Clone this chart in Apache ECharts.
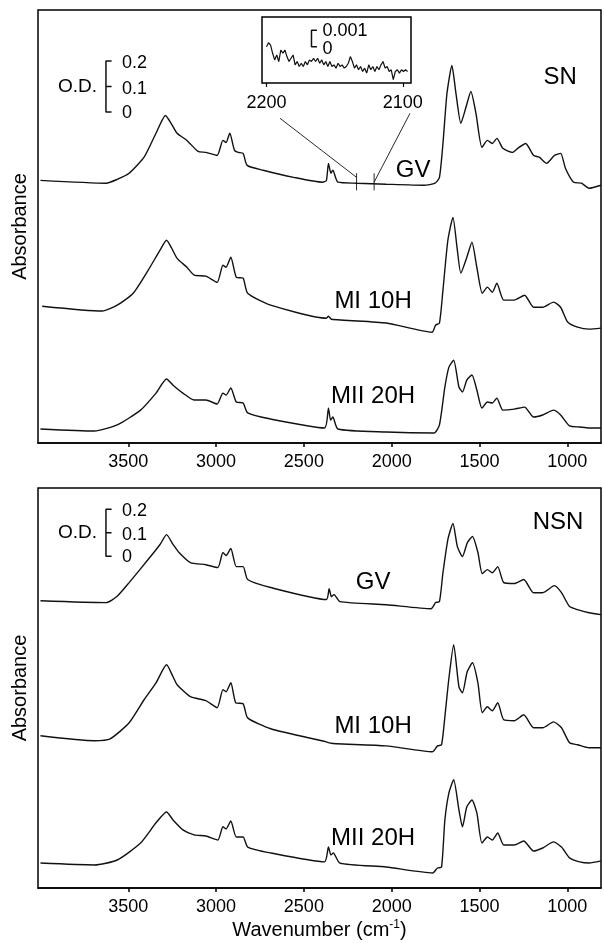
<!DOCTYPE html>
<html><head><meta charset="utf-8">
<script src="https://cdn.jsdelivr.net/npm/echarts@6/dist/echarts.min.js"></script>
<style>html,body{margin:0;padding:0;background:#fff}#c{width:604px;height:943px}</style>
</head><body><div id="c"></div>
<script>
// ---------- data (wavenumber cm-1, plotted absorbance O.D. incl. offsets) ----------
const xTicks = [1000, 1500, 2000, 2500, 3000, 3500];
const insetTicks = [2100, 2200];
const odTickLabels = ['0.2', '0.1', '0'];

const snGV = [[4000,1.031],[3626,1.020],[3563,1.035],[3495,1.059],[3410,1.122],[3342,1.216],[3288,1.286],[3256,1.255],[3222,1.216],[3166,1.188],[3103,1.145],[3058,1.141],[2994,1.129],[2961,1.188],[2943,1.180],[2922,1.216],[2895,1.149],[2874,1.141],[2846,1.137],[2823,1.090],[2732,1.071],[2558,1.043],[2394,1.024],[2372,1.030],[2360,1.098],[2346,1.059],[2335,1.071],[2306,1.024],[2196,1.020],[2031,1.016],[1816,1.012],[1753,1.020],[1728,1.043],[1708,1.176],[1685,1.373],[1657,1.482],[1634,1.373],[1606,1.255],[1577,1.318],[1549,1.380],[1520,1.294],[1486,1.161],[1455,1.188],[1427,1.176],[1401,1.196],[1367,1.157],[1313,1.141],[1282,1.157],[1237,1.176],[1192,1.129],[1160,1.122],[1118,1.098],[1073,1.129],[1038,1.137],[1010,1.078],[964,1.024],[919,1.020],[876,1.000],[808,1.012]];
const snMI = [[3990,0.537],[3648,0.518],[3563,0.541],[3472,0.588],[3387,0.678],[3319,0.757],[3282,0.796],[3256,0.769],[3222,0.725],[3166,0.690],[3125,0.659],[3058,0.655],[2994,0.631],[2961,0.698],[2943,0.690],[2916,0.729],[2885,0.651],[2846,0.647],[2820,0.588],[2689,0.541],[2372,0.490],[2360,0.498],[2343,0.486],[2031,0.471],[1770,0.435],[1750,0.463],[1728,0.471],[1708,0.600],[1680,0.796],[1651,0.886],[1628,0.769],[1606,0.667],[1572,0.729],[1543,0.788],[1515,0.690],[1484,0.588],[1455,0.612],[1427,0.592],[1401,0.627],[1362,0.561],[1302,0.561],[1243,0.580],[1192,0.533],[1140,0.533],[1078,0.553],[1038,0.533],[998,0.475],[942,0.455],[876,0.447],[808,0.451]];
const snMII = [[4000,0.055],[3693,0.047],[3563,0.071],[3430,0.129],[3342,0.196],[3282,0.251],[3245,0.227],[3189,0.196],[3125,0.169],[3058,0.169],[2994,0.153],[2961,0.196],[2943,0.188],[2916,0.216],[2885,0.161],[2846,0.157],[2820,0.118],[2689,0.094],[2383,0.059],[2360,0.137],[2348,0.090],[2335,0.102],[2306,0.055],[2031,0.043],[1759,0.039],[1728,0.071],[1697,0.220],[1674,0.298],[1647,0.325],[1617,0.220],[1597,0.200],[1572,0.247],[1543,0.267],[1515,0.208],[1486,0.137],[1455,0.161],[1427,0.157],[1401,0.176],[1367,0.129],[1302,0.133],[1243,0.141],[1192,0.102],[1140,0.110],[1078,0.129],[1038,0.110],[987,0.067],[930,0.063],[876,0.059],[808,0.059]];

const nsnGV = [[4000,1.221],[3626,1.213],[3563,1.240],[3495,1.298],[3387,1.396],[3319,1.460],[3282,1.502],[3245,1.460],[3211,1.426],[3146,1.383],[3058,1.374],[2990,1.362],[2961,1.426],[2943,1.413],[2916,1.443],[2885,1.366],[2846,1.366],[2820,1.311],[2689,1.277],[2372,1.226],[2356,1.272],[2343,1.238],[2328,1.247],[2295,1.217],[2031,1.204],[1776,1.187],[1750,1.213],[1728,1.217],[1708,1.340],[1680,1.481],[1651,1.549],[1626,1.451],[1597,1.409],[1569,1.468],[1540,1.494],[1509,1.426],[1484,1.336],[1455,1.353],[1427,1.340],[1396,1.366],[1362,1.298],[1302,1.294],[1248,1.311],[1192,1.255],[1140,1.255],[1073,1.285],[1033,1.255],[987,1.196],[942,1.183],[876,1.170],[808,1.162]];
const nsnMI = [[4000,0.647],[3693,0.626],[3603,0.634],[3495,0.702],[3410,0.800],[3342,0.872],[3282,0.949],[3245,0.898],[3222,0.864],[3146,0.813],[3058,0.796],[2994,0.766],[2961,0.843],[2943,0.834],[2916,0.872],[2888,0.787],[2846,0.783],[2820,0.723],[2689,0.677],[2372,0.621],[2356,0.617],[2315,0.613],[2031,0.604],[1767,0.579],[1739,0.604],[1716,0.609],[1697,0.728],[1675,0.885],[1647,1.034],[1617,0.855],[1597,0.830],[1570,0.919],[1540,0.957],[1509,0.872],[1484,0.745],[1455,0.770],[1427,0.753],[1396,0.787],[1362,0.715],[1302,0.711],[1248,0.736],[1192,0.681],[1140,0.681],[1078,0.706],[1033,0.681],[987,0.617],[942,0.609],[876,0.596],[808,0.596]];
const nsnMII = [[4000,0.106],[3693,0.098],[3563,0.119],[3430,0.191],[3342,0.277],[3282,0.323],[3245,0.289],[3189,0.247],[3125,0.226],[3058,0.221],[2990,0.204],[2961,0.260],[2943,0.251],[2916,0.285],[2885,0.217],[2846,0.217],[2820,0.174],[2689,0.149],[2383,0.111],[2360,0.174],[2346,0.140],[2332,0.149],[2295,0.106],[2031,0.089],[1767,0.064],[1739,0.085],[1716,0.089],[1697,0.289],[1674,0.404],[1647,0.460],[1617,0.332],[1597,0.260],[1572,0.345],[1543,0.374],[1515,0.319],[1486,0.191],[1455,0.217],[1427,0.204],[1396,0.234],[1362,0.183],[1302,0.183],[1248,0.200],[1192,0.157],[1140,0.170],[1078,0.196],[1033,0.174],[987,0.128],[930,0.111],[876,0.106],[808,0.115]];

// inset: SN GV 2200-2100 cm-1, in units of 0.001 O.D.
const insetWn = [2200,2198.5,2197,2195.5,2194,2192.5,2191,2189.5,2188,2186.5,2185,2183.5,2182,2180.5,2179,2177.5,2176,2174.5,2173,2171.5,2170,2168.5,2167,2165.5,2164,2162.5,2161,2159.5,2158,2156.5,2155,2153.5,2152,2150.5,2149,2147.5,2146,2144.5,2143,2141.5,2140,2138.5,2137,2135.5,2134,2132.5,2131,2129.5,2128,2126.5,2125,2123.5,2122,2120.5,2119,2117.5,2116,2114.5,2113,2111.5,2110,2108.5,2107,2105.5,2104,2102.5,2101,2099.5,2098,2096.5];
const insetMilliOD = [0,0.24,0.1,-0.4,-0.8,-0.5,-0.9,-0.2,-0.4,-0.2,-0.6,-0.9,-0.7,-0.5,-1.1,-0.9,-1.2,-1.0,-1.2,-0.9,-1.1,-0.8,-0.9,-0.7,-0.9,-0.7,-1.0,-0.8,-1.1,-0.9,-1.2,-0.9,-1.2,-1.1,-1.3,-1.0,-1.2,-1.1,-1.3,-1.2,-1.0,-0.6,-0.9,-1.3,-1.1,-1.4,-1.2,-1.5,-1.3,-1.6,-1.1,-1.4,-1.2,-1.5,-1.2,-1.4,-1.1,-0.9,-1.3,-1.2,-1.5,-1.4,-2.0,-1.5,-1.4,-1.6,-1.4,-1.5,-1.4,-1.5];

// ---------- annotation layout (data coordinates) ----------
const topLabels = [{name:'GV', value:[1878,1.07]},{name:'MI 10H', value:[2106,0.557]},{name:'MII 20H', value:[2106,0.184]},{name:'SN', value:[1041,1.435]}];
const botLabels = [{name:'NSN', value:[1053,1.553]},{name:'GV', value:[2106,1.298]},{name:'MI 10H', value:[2106,0.689]},{name:'MII 20H', value:[2106,0.209]}];
const odBar = {x:3627, xt:3595, xl:3536, xod:3789};
const odTop = [1.30, 1.40, 1.50];
const odBot = [1.41, 1.51, 1.61];

const FONT = "'Liberation Sans', Arial, Helvetica, sans-serif";
const INK = '#000';

function curve(data, gi) {
  return {type:'line', xAxisIndex:gi, yAxisIndex:gi, data:data, showSymbol:false, symbol:'none',
    smooth:0.2, silent:true, animation:false,
    lineStyle:{color:'#111', width:1.4}};
}
function seg(data, gi, w) {
  return {type:'line', xAxisIndex:gi, yAxisIndex:gi, data:data, showSymbol:false, symbol:'none',
    silent:true, animation:false, lineStyle:{color:'#111', width:w||1}};
}
function texts(items, gi, size, align) {
  return {type:'scatter', xAxisIndex:gi, yAxisIndex:gi, data:items, symbolSize:0, silent:true, animation:false,
    itemStyle:{color:INK, opacity:1},
    label:{show:true, position:'inside', formatter:'{b}', color:INK, fontSize:size, fontFamily:FONT,
      textBorderWidth:0, align:align||'center', verticalAlign:'middle'}};
}
function odScale(levels, gi) {
  const [y0, y1, y2] = levels;
  return [
    seg([[odBar.xt,y2],[odBar.x,y2],[odBar.x,y0],[odBar.xt,y0]], gi, 1.5),
    seg([[odBar.x,y1],[odBar.xt,y1]], gi, 1.5),
    texts([{name:odTickLabels[0], value:[odBar.xl,y2-0.01]},{name:odTickLabels[1], value:[odBar.xl,y1-0.01]},{name:odTickLabels[2], value:[odBar.xl,y0-0.005]}], gi, 18, 'left'),
    texts([{name:'O.D.', value:[odBar.xod,y1]}], gi, 19)
  ];
}
const plainNum = v => String(v);

function mainX(gi, withName) {
  const ax = {gridIndex:gi, type:'value', min:808, max:4014, inverse:true,
    axisLine:{show:true, onZero:false, lineStyle:{color:INK, width:1.5}},
    axisTick:{show:true, customValues:xTicks, length:4, lineStyle:{color:INK, width:1.5}},
    axisLabel:{show:true, customValues:xTicks, formatter:plainNum, fontSize:18, color:INK, fontFamily:FONT, margin:10},
    splitLine:{show:false}};
  if (withName) {
    ax.name = 'Wavenumber (cm{sup|-1})';
    ax.nameLocation = 'middle';
    ax.nameGap = 31;
    ax.nameTextStyle = {fontSize:20, color:INK, fontFamily:FONT,
      rich:{sup:{fontSize:12, color:INK, fontFamily:FONT, verticalAlign:'top', padding:[0,0,10,0]}}};
  }
  return ax;
}
function mainY(gi) {
  return {gridIndex:gi, type:'value', min:0, max:1.7, name:'Absorbance', nameLocation:'middle', nameGap:8,
    nameRotate:90, nameTextStyle:{fontSize:20, color:INK, fontFamily:FONT},
    axisLine:{show:false}, axisTick:{show:false}, axisLabel:{show:false}, splitLine:{show:false}};
}

const series = [
  curve(snGV,0), curve(snMI,0), curve(snMII,0),
  curve(nsnGV,1), curve(nsnMI,1), curve(nsnMII,1),
  {type:'line', xAxisIndex:2, yAxisIndex:2, data:insetWn.map((w,i)=>[w, insetMilliOD[i]]), showSymbol:false,
    symbol:'none', silent:true, animation:false, lineStyle:{color:'#111', width:1.2}},
  seg([[2163,1],[2167,1],[2167,0],[2163,0]], 2, 1.5),
  texts([{name:'0.001', value:[2159,0.95]},{name:'0', value:[2159,-0.15]}], 2, 18, 'left'),
  // connectors from inset to GV trace
  seg([[2636,1.275],[2200,1.043]], 0, 0.9),
  seg([[1896,1.294],[2100,1.024]], 0, 0.9),
  seg([[2200,1.059],[2200,0.992]], 0, 0.9),
  seg([[2100,1.059],[2100,0.992]], 0, 0.9),
  texts(topLabels, 0, 24),
  texts(botLabels, 1, 24),
  ...odScale(odTop, 0),
  ...odScale(odBot, 1)
];

const chart = echarts.init(document.getElementById('c'), null, {renderer:'canvas'});
chart.setOption({
  backgroundColor:'#fff',
  animation:false,
  textStyle:{fontFamily:FONT},
  grid:[
    {left:38, top:10, width:563, height:433, show:true, borderColor:INK, borderWidth:1.5, containLabel:false},
    {left:38, top:488, width:563, height:400, show:true, borderColor:INK, borderWidth:1.5, containLabel:false},
    {left:262, top:17, width:149, height:66, show:true, borderColor:INK, borderWidth:1.5, containLabel:false}
  ],
  xAxis:[
    mainX(0,false), mainX(1,true),
    {gridIndex:2, type:'value', min:2094, max:2203.3, inverse:true, position:'bottom',
      axisLine:{show:false, onZero:false},
      axisTick:{show:true, customValues:insetTicks, length:4, lineStyle:{color:INK, width:1.2}},
      axisLabel:{show:true, customValues:insetTicks, formatter:plainNum, fontSize:18, color:INK, fontFamily:FONT, margin:11},
      splitLine:{show:false}}
  ],
  yAxis:[
    mainY(0), mainY(1),
    {gridIndex:2, type:'value', min:-2.2, max:1.8, show:false, splitLine:{show:false}}
  ],
  series:series
});
</script>
</body></html>
